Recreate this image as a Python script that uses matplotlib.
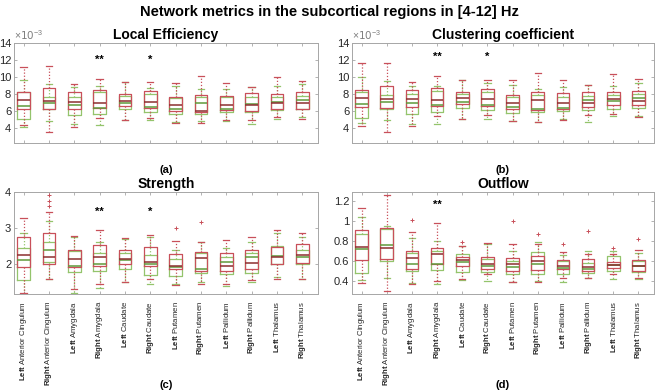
"""Boxplots of network metrics in subcortical regions, [4-12] Hz."""

import matplotlib

matplotlib.use("Agg")
import matplotlib.pyplot as plt

plt.rcParams["font.family"] = ["Liberation Sans", "DejaVu Sans"]
plt.rcParams["mathtext.fontset"] = "custom"
plt.rcParams["mathtext.rm"] = "Liberation Sans"
plt.rcParams["mathtext.bf"] = "Liberation Sans:bold"

REGIONS = [
    ("Left", "Anterior Cingulum"),
    ("Right", "Anterior Cingulum"),
    ("Left", "Amygdala"),
    ("Right", "Amygdala"),
    ("Left", "Caudate"),
    ("Right", "Caudate"),
    ("Left", "Putamen"),
    ("Right", "Putamen"),
    ("Left", "Pallidum"),
    ("Right", "Pallidum"),
    ("Left", "Thalamus"),
    ("Right", "Thalamus"),
]

# each row: q1, median, q3, whisker low, whisker high  (LE / CC in units of 1e-3)
LE_GREEN = [
    [5.1, 6.6, 8.2, 4.1, 9.7], [6.2, 6.9, 7.7, 4.8, 9.2], [5.5, 6.7, 7.7, 4.5, 8.8],
    [5.7, 6.4, 8.2, 4.4, 9.0], [6.2, 6.9, 7.8, 4.9, 9.4], [5.9, 6.5, 8.0, 5.0, 8.7],
    [5.6, 6.3, 7.5, 4.7, 9.0], [5.7, 7.0, 7.6, 4.8, 8.6], [5.9, 6.3, 7.6, 4.8, 8.6],
    [5.9, 6.8, 7.7, 4.5, 8.8], [6.1, 7.1, 7.7, 5.1, 9.0], [6.2, 7.3, 7.8, 5.3, 9.2],
]
LE_RED = [
    [6.2, 7.3, 8.3, 4.4, 11.2], [6.3, 7.2, 8.75, 3.5, 11.3], [6.3, 7.1, 8.2, 4.1, 9.2],
    [6.4, 7.0, 8.5, 5.2, 9.8], [6.6, 7.2, 8.0, 4.9, 9.4], [6.4, 7.1, 8.4, 5.2, 9.4],
    [6.0, 6.7, 7.7, 4.6, 9.3], [5.9, 6.0, 7.9, 4.6, 10.1], [6.1, 6.7, 7.8, 4.9, 9.3],
    [6.0, 6.7, 8.1, 5.0, 8.8], [6.3, 7.0, 8.0, 5.3, 10.0], [6.3, 7.0, 8.2, 5.1, 9.5],
]
CC_GREEN = [
    [5.2, 6.8, 8.3, 4.6, 10.0], [6.3, 7.1, 7.9, 5.0, 9.5], [5.6, 6.9, 8.0, 4.5, 9.0],
    [5.9, 6.7, 8.4, 4.5, 9.0], [6.4, 7.1, 8.0, 5.1, 9.7], [6.1, 6.7, 8.2, 5.1, 9.3],
    [5.8, 6.5, 7.6, 4.8, 9.1], [5.9, 6.2, 7.9, 4.7, 8.6], [6.0, 6.4, 7.7, 5.1, 8.8],
    [6.1, 7.3, 7.8, 4.7, 9.1], [6.3, 7.2, 7.9, 5.4, 9.0], [6.4, 7.5, 8.0, 5.4, 9.3],
]
CC_RED = [
    [6.5, 7.5, 8.5, 4.2, 11.6], [6.4, 7.4, 9.0, 3.6, 11.7], [6.5, 7.4, 8.5, 4.2, 9.4],
    [6.6, 7.3, 8.7, 5.4, 10.1], [6.8, 7.5, 8.3, 5.1, 9.7], [6.6, 7.4, 8.6, 5.5, 9.7],
    [6.3, 6.9, 7.9, 4.8, 9.6], [6.1, 7.3, 8.2, 4.7, 10.5], [6.3, 6.9, 8.1, 5.0, 9.7],
    [6.5, 7.0, 8.3, 5.5, 9.1], [6.7, 7.4, 8.2, 5.7, 10.3], [6.7, 7.2, 8.4, 5.3, 9.8],
]
ST_GREEN = [
    [1.55, 2.1, 2.45, 1.15, 2.85], [2.05, 2.4, 2.6, 1.6, 3.2], [1.78, 1.95, 2.35, 1.2, 2.75],
    [1.82, 2.0, 2.3, 1.35, 2.6], [1.85, 2.1, 2.3, 1.5, 2.7], [1.7, 2.0, 2.25, 1.45, 2.75],
    [1.68, 1.93, 2.15, 1.45, 2.4], [1.75, 1.85, 2.3, 1.5, 2.6], [1.72, 2.05, 2.2, 1.4, 2.45],
    [1.75, 2.2, 2.3, 1.5, 2.6], [2.0, 2.22, 2.5, 1.65, 2.85], [2.0, 2.2, 2.4, 1.6, 2.75],
]
ST_RED = [
    [1.91, 2.26, 2.75, 1.2, 3.28], [2.0, 2.2, 2.85, 1.6, 3.45], [1.92, 2.15, 2.38, 1.3, 2.78],
    [1.95, 2.2, 2.52, 1.45, 2.95], [2.0, 2.15, 2.38, 1.5, 2.73], [1.95, 2.05, 2.47, 1.6, 2.8],
    [1.85, 1.95, 2.28, 1.43, 2.65], [1.8, 2.17, 2.33, 1.45, 2.6], [1.8, 1.95, 2.3, 1.45, 2.68],
    [1.85, 2.02, 2.4, 1.55, 2.75], [2.0, 2.2, 2.48, 1.6, 2.95], [2.02, 2.25, 2.55, 1.6, 2.87],
]
OF_GREEN = [
    [0.48, 0.72, 0.87, 0.41, 1.04], [0.60, 0.76, 0.92, 0.43, 0.95], [0.50, 0.57, 0.68, 0.38, 0.83],
    [0.51, 0.57, 0.70, 0.37, 0.80], [0.49, 0.59, 0.67, 0.41, 0.75], [0.49, 0.55, 0.62, 0.40, 0.77],
    [0.47, 0.54, 0.60, 0.39, 0.70], [0.47, 0.57, 0.69, 0.40, 0.79], [0.47, 0.53, 0.60, 0.39, 0.66],
    [0.48, 0.52, 0.58, 0.43, 0.70], [0.50, 0.56, 0.65, 0.42, 0.70], [0.49, 0.55, 0.60, 0.42, 0.68],
]
OF_RED = [
    [0.61, 0.745, 0.915, 0.38, 1.135], [0.62, 0.73, 0.93, 0.30, 1.26], [0.52, 0.63, 0.70, 0.37, 0.89],
    [0.57, 0.67, 0.73, 0.40, 0.98], [0.55, 0.61, 0.64, 0.42, 0.75], [0.52, 0.57, 0.64, 0.47, 0.78],
    [0.50, 0.57, 0.63, 0.39, 0.77], [0.51, 0.60, 0.65, 0.39, 0.77], [0.52, 0.55, 0.61, 0.43, 0.69],
    [0.50, 0.54, 0.62, 0.43, 0.67], [0.53, 0.56, 0.59, 0.47, 0.67], [0.50, 0.55, 0.61, 0.43, 0.71],
]
# red-group outliers: {region index: [values]}
ST_RED_OUT = {1: [3.6, 3.75, 3.92], 6: [3.0], 7: [3.18]}
OF_RED_OUT = {2: [1.01], 4: [0.79], 6: [1.0], 7: [0.87], 8: [0.77], 9: [0.9], 10: [0.73], 11: [0.82]}

SIG_MARKS = {"a": {3: "**", 5: "*"}, "b": {3: "**", 5: "*"}, "c": {3: "**", 5: "*"}, "d": {3: "**"}}

GREEN = "#94c46c"
GREEN_MED = "#5f9a3a"
RED = "#c8505a"
RED_MED = "#8c2f2f"
TEXT_GREY = "#262626"
SPINE_GREY = "#a6a6a6"


def make_stats(rows, outliers=None):
    outliers = outliers or {}
    stats = []
    for i, (q1, med, q3, lo, hi) in enumerate(rows):
        stats.append({"q1": q1, "med": med, "q3": q3, "whislo": lo, "whishi": hi,
                      "fliers": outliers.get(i, [])})
    return stats


def draw_group(ax, stats, color, med_color):
    ax.bxp(
        stats,
        positions=range(1, len(stats) + 1),
        widths=0.5,
        showfliers=True,
        boxprops=dict(color=color, linewidth=0.9),
        medianprops=dict(color=med_color, linewidth=1.1),
        whiskerprops=dict(color=color, linewidth=0.9, linestyle=(0, (1, 1.5))),
        capprops=dict(color=color, linewidth=0.9),
        flierprops=dict(marker="+", markersize=3, markeredgecolor=color, markeredgewidth=0.7),
        manage_ticks=False,
    )


def style_axes(ax, title, ylim, yticks, ystar, key, show_xlabels):
    ax.set_title(title, fontsize=10, fontweight="bold", pad=3)
    ax.set_xlim(0.62, 12.62)
    ax.set_ylim(*ylim)
    ax.set_yticks(yticks)
    ax.set_xticks(range(1, len(REGIONS) + 1))
    if show_xlabels:
        labels = [rf"$\mathbf{{{side}}}$ {name}" for side, name in REGIONS]
        ax.set_xticklabels(labels, rotation=90, fontsize=5.6, color=TEXT_GREY)
    else:
        ax.set_xticklabels([])
    ax.tick_params(direction="in", length=2.5, width=0.6, top=True, right=True,
                   color=SPINE_GREY, labelsize=8, labelcolor=TEXT_GREY, pad=2)
    ax.tick_params(axis="x", pad=5, labelsize=5.6)
    for spine in ax.spines.values():
        spine.set_color(SPINE_GREY)
        spine.set_linewidth(0.7)
    for idx, mark in SIG_MARKS[key].items():
        ax.text(idx + 1, ystar, mark, ha="center", va="center", fontsize=8,
                fontweight="bold", color="black")


fig = plt.figure(figsize=(6.58, 3.92), dpi=100)
W, H = 658, 392


def add_axes(x0, y0, x1, y1):
    return fig.add_axes([x0 / W, 1 - y1 / H, (x1 - x0) / W, (y1 - y0) / H])


ax_a = add_axes(14, 43, 318, 143)
ax_b = add_axes(352, 43, 654, 143)
ax_c = add_axes(14, 192, 318, 294)
ax_d = add_axes(352, 192, 654, 294)

for ax, green, red, out in [
    (ax_a, LE_GREEN, LE_RED, None),
    (ax_b, CC_GREEN, CC_RED, None),
    (ax_c, ST_GREEN, ST_RED, ST_RED_OUT),
    (ax_d, OF_GREEN, OF_RED, OF_RED_OUT),
]:
    draw_group(ax, make_stats(green), GREEN, GREEN_MED)
    draw_group(ax, make_stats(red, out), RED, RED_MED)

style_axes(ax_a, "Local Efficiency", (2.25, 14), [4, 6, 8, 10, 12, 14], 12.0, "a", False)
style_axes(ax_b, "Clustering coefficient", (2.25, 14), [4, 6, 8, 10, 12, 14], 12.4, "b", False)
style_axes(ax_c, "Strength", (1.17, 4), [2, 3, 4], 3.45, "c", True)
style_axes(ax_d, "Outflow", (0.27, 1.29), [0.4, 0.6, 0.8, 1.0, 1.2], 1.16, "d", True)
ax_d.set_yticklabels(["0.4", "0.6", "0.8", "1", "1.2"])

for ax in (ax_a, ax_b):
    ax.text(0.0, 1.015, r"$\times$10$^{-3}$", transform=ax.transAxes,
            ha="left", va="bottom", fontsize=7.5, color="#7f7f7f", family="DejaVu Sans")

fig.text(0.5, 1 - 12 / H, "Network metrics in the subcortical regions in [4-12] Hz",
         ha="center", va="center", fontsize=10.5, fontweight="bold")
for label, x, y in [("(a)", 166, 170), ("(b)", 503, 170), ("(c)", 166, 385), ("(d)", 503, 385)]:
    fig.text(x / W, 1 - y / H, label, ha="center", va="center", fontsize=8, fontweight="bold")

fig.savefig("out.png", dpi=100)
